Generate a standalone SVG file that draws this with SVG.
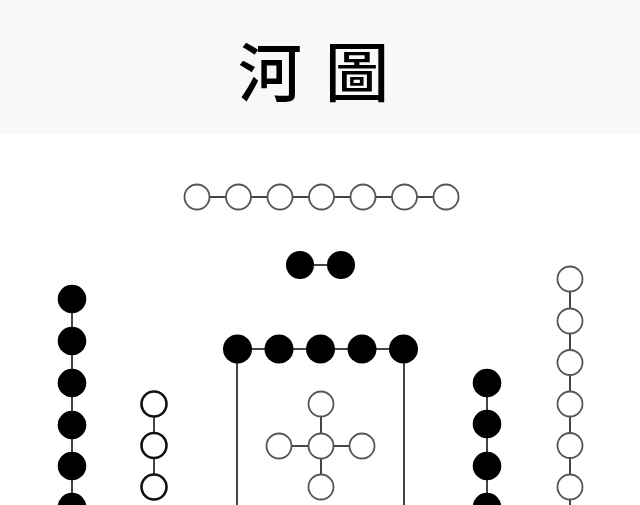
<svg xmlns="http://www.w3.org/2000/svg" width="640" height="505" viewBox="0 0 640 505">
<style>
.b{fill:#000;stroke:none}
.w{fill:#fff;stroke:#555;stroke-width:1.8}
.wk{fill:#fff;stroke:#111;stroke-width:2.6}
.c{stroke:#444;stroke-width:2;fill:none}
.t{font-family:"Noto Sans CJK TC","Noto Sans CJK SC",sans-serif;font-size:64px;font-weight:500;fill:#000;text-anchor:middle}
</style>
<rect x="0" y="0" width="640" height="505" fill="#fff"/>
<rect x="0" y="0" width="640" height="134" fill="#f8f8f8"/>
<g id="title">
<text class="t" x="270" y="96">河</text>
<text class="t" x="357" y="96">圖</text>
</g>
<g id="connectors">
<line class="c" x1="197" y1="197" x2="446" y2="197"/>
<line class="c" x1="300" y1="265" x2="341" y2="265"/>
<line class="c" x1="72" y1="299" x2="72" y2="505"/>
<line class="c" x1="154" y1="404" x2="154" y2="487"/>
<line class="c" x1="237" y1="349" x2="404" y2="349"/>
<line class="c" x1="237" y1="349" x2="237" y2="505"/>
<line class="c" x1="404" y1="349" x2="404" y2="505"/>
<line class="c" x1="321" y1="404" x2="321" y2="487"/>
<line class="c" x1="279" y1="446" x2="362" y2="446"/>
<line class="c" x1="487" y1="383" x2="487" y2="505"/>
<line class="c" x1="570" y1="279" x2="570" y2="505"/>
</g>
<g id="top-seven">
<circle class="w" cx="197" cy="197" r="12.5"/>
<circle class="w" cx="238.5" cy="197" r="12.5"/>
<circle class="w" cx="280" cy="197" r="12.5"/>
<circle class="w" cx="321.5" cy="197" r="12.5"/>
<circle class="w" cx="363" cy="197" r="12.5"/>
<circle class="w" cx="404.5" cy="197" r="12.5"/>
<circle class="w" cx="446" cy="197" r="12.5"/>
</g>
<g id="top-two">
<circle class="b" cx="300" cy="265" r="14"/>
<circle class="b" cx="341" cy="265" r="14"/>
</g>
<g id="left-six">
<circle class="b" cx="72" cy="299" r="14.3"/>
<circle class="b" cx="72" cy="341" r="14.3"/>
<circle class="b" cx="72" cy="383" r="14.3"/>
<circle class="b" cx="72" cy="425" r="14.3"/>
<circle class="b" cx="72" cy="466" r="14.3"/>
<circle class="b" cx="72" cy="507" r="14.3"/>
</g>
<g id="left-three">
<circle class="wk" cx="154" cy="404" r="12.5"/>
<circle class="wk" cx="154" cy="445.5" r="12.5"/>
<circle class="wk" cx="154" cy="487" r="12.5"/>
</g>
<g id="center-ten">
<circle class="b" cx="237.5" cy="349" r="14.5"/>
<circle class="b" cx="279" cy="349" r="14.5"/>
<circle class="b" cx="320.5" cy="349" r="14.5"/>
<circle class="b" cx="362" cy="349" r="14.5"/>
<circle class="b" cx="403.5" cy="349" r="14.5"/>
</g>
<g id="center-five">
<circle class="w" cx="321" cy="404" r="12.5"/>
<circle class="w" cx="279" cy="446" r="12.5"/>
<circle class="w" cx="321" cy="446" r="12.5"/>
<circle class="w" cx="362" cy="446" r="12.5"/>
<circle class="w" cx="321" cy="487" r="12.5"/>
</g>
<g id="right-four">
<circle class="b" cx="487" cy="383" r="14.3"/>
<circle class="b" cx="487" cy="424" r="14.3"/>
<circle class="b" cx="487" cy="466" r="14.3"/>
<circle class="b" cx="487" cy="507" r="14.3"/>
</g>
<g id="right-six">
<circle class="w" cx="570" cy="279" r="12.5"/>
<circle class="w" cx="570" cy="321" r="12.5"/>
<circle class="w" cx="570" cy="362.5" r="12.5"/>
<circle class="w" cx="570" cy="404" r="12.5"/>
<circle class="w" cx="570" cy="445.5" r="12.5"/>
<circle class="w" cx="570" cy="487" r="12.5"/>
</g>
</svg>
